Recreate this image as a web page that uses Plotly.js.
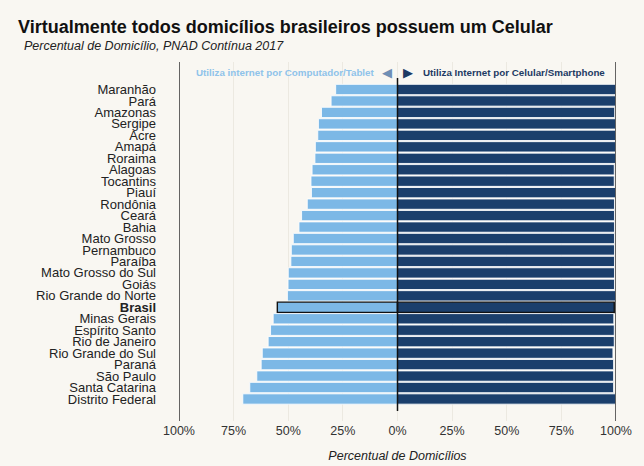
<!DOCTYPE html>
<html>
<head>
<meta charset="utf-8">
<script src="https://cdn.plot.ly/plotly-3.0.1.min.js"></script>
<style>
  html, body { margin: 0; padding: 0; background: #f9f7f2; }
  #chart { width: 644px; height: 466px; }
</style>
</head>
<body>
<div id="chart"></div>
<script>
// Data
const categories = ["Maranhão","Pará","Amazonas","Sergipe","Acre","Amapá","Roraima","Alagoas","Tocantins","Piauí","Rondônia","Ceará","Bahia","Mato Grosso","Pernambuco","Paraíba","Mato Grosso do Sul","Goiás","Rio Grande do Norte","Brasil","Minas Gerais","Espírito Santo","Rio de Janeiro","Rio Grande do Sul","Paraná","São Paulo","Santa Catarina","Distrito Federal"];
const computadorTablet = [28.3,30.4,34.8,36.2,36.5,37.6,37.8,39.1,39.6,39.4,41.3,43.9,45.1,47.7,48.6,48.8,50.0,50.1,50.4,55.0,56.9,58.1,59.2,61.9,62.4,64.4,67.6,70.8];
const celularSmartphone = [99.8,99.8,99.4,99.8,99.8,99.8,99.8,99.2,99.2,99.8,99.3,99.3,99.3,99.3,99.3,99.3,99.3,99.3,99.8,99.2,99.0,99.2,99.2,98.6,98.9,98.9,98.9,99.8];
const tickValues = [-100,-75,-50,-25,0,25,50,75,100];
const tickLabels = ["100%","75%","50%","25%","0%","25%","50%","75%","100%"];
const highlight = "Brasil";

const lightBlue = "#7cb8e6";
const navy = "#1b3f6c";
const lineCol = categories.map(c => c === highlight ? "#111111" : "rgba(255,255,255,0.85)");
const lineW = categories.map(c => c === highlight ? 1.4 : 1);

const traces = [
  {
    type: "bar", orientation: "h",
    y: categories,
    x: computadorTablet.map(v => -v),
    marker: { color: lightBlue, line: { color: lineCol, width: lineW } },
    hoverinfo: "skip", showlegend: false
  },
  {
    type: "bar", orientation: "h",
    y: categories,
    x: celularSmartphone,
    marker: { color: navy, line: { color: lineCol, width: lineW } },
    hoverinfo: "skip", showlegend: false
  }
];

const nCat = categories.length;
const layout = {
  width: 644, height: 466,
  paper_bgcolor: "#f9f7f2", plot_bgcolor: "#f9f7f2",
  margin: { l: 179, r: 28, t: 62, b: 45 },
  barmode: "relative", bargap: 0.1,
  font: { family: "Liberation Sans, Arial, sans-serif", color: "#333" },
  title: {
    text: "<b>Virtualmente todos domicílios brasileiros possuem um Celular</b>",
    x: 18/644, xanchor: "left", xref: "container",
    y: 1 - 27/466, yanchor: "middle", yref: "container",
    font: { size: 18, color: "#111", family: "Liberation Sans, Arial, sans-serif" }
  },
  xaxis: {
    range: [-100, 100], tickvals: tickValues, ticktext: tickLabels,
    showgrid: true, gridcolor: "#ece9e1", gridwidth: 1,
    zeroline: false, showline: false, ticks: "",
    tickfont: { size: 12.5, color: "#333" },
    title: { text: "<i>Percentual de Domicílios</i>", font: { size: 12.5, color: "#222" }, standoff: 14 },
    fixedrange: true
  },
  yaxis: {
    type: "category",
    categoryorder: "array", categoryarray: categories,
    range: [nCat + 0.92, -2.4],
    tickvals: categories,
    ticktext: categories.map(c => c === highlight ? "<b>" + c + "</b>" : c),
    tickfont: { size: 13, color: "#222" },
    ticks: "", ticklabelstandoff: 22,
    showgrid: false, zeroline: false, showline: false,
    fixedrange: true
  },
  shapes: [
    { type: "line", xref: "x", yref: "paper", x0: -100, x1: -100, y0: 0, y1: 1, line: { color: "#333", width: 1.5 } },
    { type: "line", xref: "x", yref: "paper", x0: 100, x1: 100, y0: 0, y1: 1, line: { color: "#333", width: 1.5 } },
    { type: "line", xref: "x", yref: "y", x0: 0, x1: 0, y0: -1.0, y1: nCat + 0.05, line: { color: "#111", width: 1.5 } }
  ],
  annotations: [
    { text: "<i>Percentual de Domicílio, PNAD Contínua 2017</i>", xref: "paper", yref: "paper",
      x: (22-179)/437, y: (421-46)/359, xanchor: "left", yanchor: "middle", showarrow: false,
      font: { size: 12.5, color: "#222" } },
    { text: "<b>Utiliza internet por Computador/Tablet</b>", xref: "paper", yref: "paper",
      x: (377-179)/437, y: (421-72)/359, xanchor: "right", yanchor: "middle", showarrow: false,
      font: { size: 9.8, color: "#8fc3ea" } },
    { text: "◀", xref: "paper", yref: "paper",
      x: (387-179)/437, y: (421-72)/359, xanchor: "center", yanchor: "middle", showarrow: false,
      font: { size: 13, color: "#6f8fb5", family: "DejaVu Sans" } },
    { text: "▶", xref: "paper", yref: "paper",
      x: (408-179)/437, y: (421-72)/359, xanchor: "center", yanchor: "middle", showarrow: false,
      font: { size: 13, color: "#1d3a63", family: "DejaVu Sans" } },
    { text: "<b>Utiliza Internet por Celular/Smartphone</b>", xref: "paper", yref: "paper",
      x: (421-179)/437, y: (421-72)/359, xanchor: "left", yanchor: "middle", showarrow: false,
      font: { size: 9.8, color: "#1d3a63" } }
  ]
};

Plotly.newPlot("chart", traces, layout, { displayModeBar: false, staticPlot: true });
</script>
</body>
</html>
